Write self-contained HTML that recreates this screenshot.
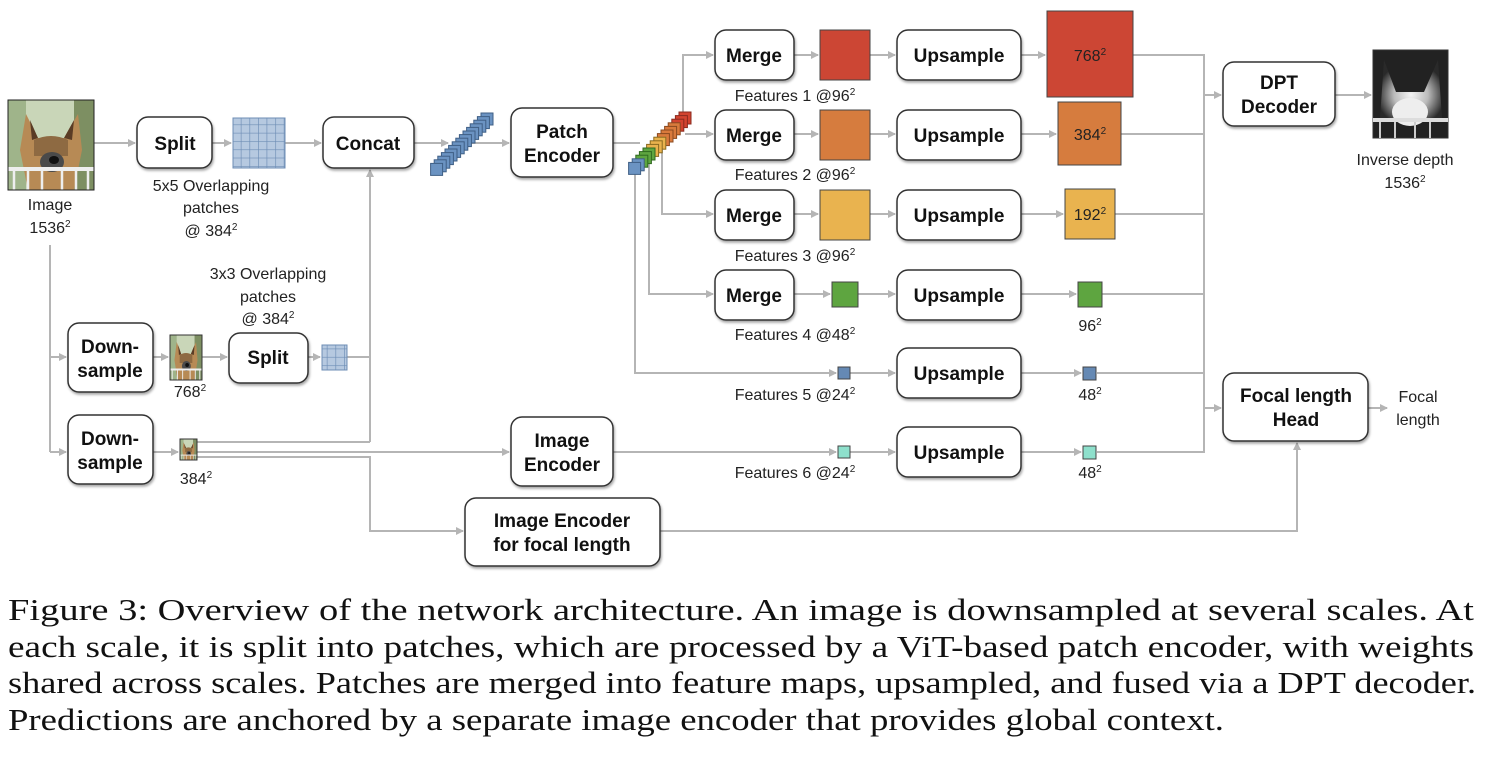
<!DOCTYPE html>
<html><head><meta charset="utf-8"><style>
html,body{margin:0;padding:0;background:#fff;}
svg{display:block}
.b{fill:#fff;stroke:#333;stroke-width:1.5}
.t{font-family:"Liberation Sans",sans-serif;font-weight:bold;font-size:19px;fill:#111;text-anchor:middle}
.l{font-family:"Liberation Sans",sans-serif;font-size:16px;fill:#222;text-anchor:middle}
.c{stroke:#b5b5b5;stroke-width:2;fill:none}
.cap{font-family:"Liberation Serif",serif;font-size:31px;fill:#111}
</style></head><body>
<svg width="1488" height="768" viewBox="0 0 1488 768" xmlns="http://www.w3.org/2000/svg">
<defs>
<marker id="a" markerWidth="8" markerHeight="8" refX="7" refY="4" orient="auto" markerUnits="userSpaceOnUse"><path d="M0,0 L8,4 L0,8 z" fill="#b5b5b5"/></marker>
<filter id="s" x="-10%" y="-10%" width="130%" height="130%"><feDropShadow dx="1" dy="2" stdDeviation="1.2" flood-color="#000" flood-opacity="0.35"/></filter>
<radialGradient id="dep" cx="0.5" cy="0.6" r="0.55"><stop offset="0" stop-color="#f4f4f4"/><stop offset="0.5" stop-color="#bbb"/><stop offset="1" stop-color="#2a2a2a"/></radialGradient>
<pattern id="g" width="8.6" height="8.3" patternUnits="userSpaceOnUse"><rect width="8.6" height="8.3" fill="#b6c9e0"/><path d="M0,0H8.6M0,0V8.3" stroke="#6d8db5" stroke-width="1.3"/></pattern>
<symbol id="dog" viewBox="0 0 86 90" preserveAspectRatio="none">
<rect width="86" height="90" fill="#c9d6b8"/>
<rect x="0" y="0" width="18" height="90" fill="#9fb48a"/>
<rect x="66" y="0" width="20" height="90" fill="#7d8f62"/>
<path d="M18,14 L30,38 L56,38 L70,14 L74,50 L66,90 L20,90 L12,50 z" fill="#b78a55"/>
<path d="M22,20 L30,38 L24,40 z M66,20 L56,38 L64,40 z" fill="#5a3c25"/>
<path d="M26,40 Q43,32 60,40 L60,56 L26,56 z" fill="#8e6a42"/>
<ellipse cx="44" cy="62" rx="12" ry="10" fill="#4a4a4a"/>
<ellipse cx="46" cy="60" rx="5" ry="4" fill="#111"/>
<rect x="0" y="67" width="86" height="4" fill="#eee"/>
<path d="M6,71V90M20,71V90M34,71V90M54,71V90M68,71V90M80,71V90" stroke="#eee" stroke-width="2.5"/>
</symbol>
</defs>

<g class="c">
<path d="M94,143H135" marker-end="url(#a)"/>
<path d="M212,143H231" marker-end="url(#a)"/>
<path d="M285,143H321" marker-end="url(#a)"/>
<path d="M414,143H448" marker-end="url(#a)"/>
<path d="M470,143H509" marker-end="url(#a)"/>
<path d="M613,143H640"/>
<path d="M50,245V452"/>
<path d="M50,357H66" marker-end="url(#a)"/>
<path d="M50,452H66" marker-end="url(#a)"/>
<path d="M153,357H168" marker-end="url(#a)"/>
<path d="M202,357H227" marker-end="url(#a)"/>
<path d="M308,357H320" marker-end="url(#a)"/>
<path d="M347,357H370"/>
<path d="M370,442V170" marker-end="url(#a)"/>
<path d="M197,442H370"/>
<path d="M153,452H178" marker-end="url(#a)"/>
<path d="M197,452H509" marker-end="url(#a)"/>
<path d="M197,457H370V531H463" marker-end="url(#a)"/>
<path d="M660,531H1297V443" marker-end="url(#a)"/>
<path d="M683,120V55H713" marker-end="url(#a)"/>
<path d="M685,134H713" marker-end="url(#a)"/>
<path d="M662,150V214H713" marker-end="url(#a)"/>
<path d="M649,158V294H713" marker-end="url(#a)"/>
<path d="M635,172V373H836" marker-end="url(#a)"/>
<path d="M613,452H836" marker-end="url(#a)"/>
<path d="M794,55H818" marker-end="url(#a)"/><path d="M870,55H895" marker-end="url(#a)"/>
<path d="M794,134H818" marker-end="url(#a)"/><path d="M870,134H895" marker-end="url(#a)"/>
<path d="M794,214H818" marker-end="url(#a)"/><path d="M870,214H895" marker-end="url(#a)"/>
<path d="M794,294H830" marker-end="url(#a)"/><path d="M858,294H895" marker-end="url(#a)"/>
<path d="M850,373H895" marker-end="url(#a)"/>
<path d="M850,452H895" marker-end="url(#a)"/>
<path d="M1021,55H1045" marker-end="url(#a)"/>
<path d="M1021,134H1056" marker-end="url(#a)"/>
<path d="M1021,214H1063" marker-end="url(#a)"/>
<path d="M1021,294H1076" marker-end="url(#a)"/>
<path d="M1021,373H1081" marker-end="url(#a)"/>
<path d="M1021,452H1081" marker-end="url(#a)"/>
<path d="M1133,55H1204V452H1097"/>
<path d="M1121,134H1204M1115,214H1204M1102,294H1204M1097,373H1204"/>
<path d="M1204,95H1221" marker-end="url(#a)"/>
<path d="M1204,408H1221" marker-end="url(#a)"/>
<path d="M1335,95H1371" marker-end="url(#a)"/>
<path d="M1368,408H1387" marker-end="url(#a)"/>
</g>

<use href="#dog" x="8" y="100" width="86" height="90"/>
<rect x="8" y="100" width="86" height="90" fill="none" stroke="#222"/>
<use href="#dog" x="170" y="335" width="32" height="45"/>
<rect x="170" y="335" width="32" height="45" fill="none" stroke="#333"/>
<use href="#dog" x="180" y="439" width="17" height="21"/>
<rect x="180" y="439" width="17" height="21" fill="none" stroke="#333"/>
<rect x="1373" y="50" width="75" height="88" fill="#222" stroke="#333"/>
<path d="M1384,60 L1396,92 L1424,92 L1438,60 L1442,118 L1380,118 z" fill="url(#dep)"/>
<ellipse cx="1410" cy="112" rx="18" ry="14" fill="#eee"/>
<rect x="1373" y="118" width="75" height="4" fill="#ddd"/>
<path d="M1380,122V138M1395,122V138M1415,122V138M1430,122V138" stroke="#ccc" stroke-width="2"/>

<rect x="233" y="118" width="52" height="50" fill="url(#g)" stroke="#6d8db5"/>
<rect x="322" y="345" width="25" height="25" fill="url(#g)" stroke="#6d8db5"/>

<g stroke="#3f5f85" stroke-width="1" fill="#6b93c2">
<rect x="481" y="113" width="12" height="12"/><rect x="477.4" y="116.6" width="12" height="12"/><rect x="473.8" y="120.2" width="12" height="12"/><rect x="470.2" y="123.8" width="12" height="12"/><rect x="466.6" y="127.4" width="12" height="12"/><rect x="463" y="131" width="12" height="12"/><rect x="459.4" y="134.6" width="12" height="12"/><rect x="455.8" y="138.2" width="12" height="12"/><rect x="452.2" y="141.8" width="12" height="12"/><rect x="448.6" y="145.4" width="12" height="12"/><rect x="445" y="149" width="12" height="12"/><rect x="441.4" y="152.6" width="12" height="12"/><rect x="437.8" y="156.2" width="12" height="12"/><rect x="434.2" y="159.8" width="12" height="12"/><rect x="430.6" y="163.4" width="12" height="12"/>
</g>
<g stroke-width="1">
<rect x="679" y="112" width="12" height="12" fill="#d2432f" stroke="#8a2a1e"/><rect x="675.4" y="115.6" width="12" height="12" fill="#d2432f" stroke="#8a2a1e"/><rect x="671.8" y="119.2" width="12" height="12" fill="#d2432f" stroke="#8a2a1e"/>
<rect x="668.2" y="122.8" width="12" height="12" fill="#d97a3c" stroke="#8a4a20"/><rect x="664.6" y="126.4" width="12" height="12" fill="#d97a3c" stroke="#8a4a20"/><rect x="661" y="130" width="12" height="12" fill="#d97a3c" stroke="#8a4a20"/><rect x="657.4" y="133.6" width="12" height="12" fill="#d97a3c" stroke="#8a4a20"/>
<rect x="653.8" y="137.2" width="12" height="12" fill="#e9b24d" stroke="#8a6a20"/><rect x="650.2" y="140.8" width="12" height="12" fill="#e9b24d" stroke="#8a6a20"/><rect x="646.6" y="144.4" width="12" height="12" fill="#e9b24d" stroke="#8a6a20"/>
<rect x="643" y="148" width="12" height="12" fill="#5ea540" stroke="#2f6a20"/><rect x="639.4" y="151.6" width="12" height="12" fill="#5ea540" stroke="#2f6a20"/><rect x="635.8" y="155.2" width="12" height="12" fill="#5ea540" stroke="#2f6a20"/>
<rect x="632.2" y="158.8" width="12" height="12" fill="#6b93c2" stroke="#3f5f85"/><rect x="628.6" y="162.4" width="12" height="12" fill="#6b93c2" stroke="#3f5f85"/>
</g>

<g stroke="#444" stroke-width="1">
<rect x="820" y="30" width="50" height="50" fill="#cc4634"/>
<rect x="820" y="110" width="50" height="50" fill="#d67c3e"/>
<rect x="820" y="190" width="50" height="50" fill="#e9b34f"/>
<rect x="832" y="282" width="26" height="25" fill="#5ea540"/>
<rect x="838" y="367" width="12" height="12" fill="#6589b4"/>
<rect x="838" y="446" width="12" height="12" fill="#8ee0cc"/>
<rect x="1047" y="11" width="86" height="86" fill="#cc4634"/>
<rect x="1058" y="102" width="63" height="63" fill="#d67c3e"/>
<rect x="1065" y="189" width="50" height="50" fill="#e9b34f"/>
<rect x="1078" y="282" width="24" height="25" fill="#5ea540"/>
<rect x="1083" y="367" width="13" height="13" fill="#6589b4"/>
<rect x="1083" y="446" width="13" height="13" fill="#8ee0cc"/>
</g>

<g filter="url(#s)">
<rect class="b" x="137" y="117" width="75" height="51" rx="11"/>
<rect class="b" x="323" y="117" width="91" height="51" rx="11"/>
<rect class="b" x="511" y="108" width="102" height="69" rx="11"/>
<rect class="b" x="68" y="323" width="85" height="69" rx="11"/>
<rect class="b" x="68" y="415" width="85" height="69" rx="11"/>
<rect class="b" x="229" y="333" width="79" height="50" rx="11"/>
<rect class="b" x="511" y="417" width="102" height="69" rx="11"/>
<rect class="b" x="465" y="498" width="195" height="68" rx="11"/>
<rect class="b" x="715" y="30" width="79" height="50" rx="11"/>
<rect class="b" x="715" y="110" width="79" height="50" rx="11"/>
<rect class="b" x="715" y="190" width="79" height="50" rx="11"/>
<rect class="b" x="715" y="270" width="79" height="50" rx="11"/>
<rect class="b" x="897" y="30" width="124" height="50" rx="11"/>
<rect class="b" x="897" y="110" width="124" height="50" rx="11"/>
<rect class="b" x="897" y="190" width="124" height="50" rx="11"/>
<rect class="b" x="897" y="270" width="124" height="50" rx="11"/>
<rect class="b" x="897" y="348" width="124" height="50" rx="11"/>
<rect class="b" x="897" y="427" width="124" height="50" rx="11"/>
<rect class="b" x="1223" y="62" width="112" height="64" rx="11"/>
<rect class="b" x="1223" y="373" width="145" height="68" rx="11"/>
</g>

<g class="t">
<text x="175" y="150">Split</text>
<text x="368" y="150">Concat</text>
<text x="562" y="138">Patch</text><text x="562" y="162">Encoder</text>
<text x="110" y="353">Down-</text><text x="110" y="377">sample</text>
<text x="110" y="445">Down-</text><text x="110" y="469">sample</text>
<text x="268" y="364">Split</text>
<text x="562" y="447">Image</text><text x="562" y="471">Encoder</text>
<text x="562" y="527">Image Encoder</text><text x="562" y="551">for focal length</text>
<text x="754" y="62">Merge</text><text x="754" y="142">Merge</text><text x="754" y="222">Merge</text><text x="754" y="302">Merge</text>
<text x="959" y="62">Upsample</text><text x="959" y="142">Upsample</text><text x="959" y="222">Upsample</text><text x="959" y="302">Upsample</text><text x="959" y="380">Upsample</text><text x="959" y="459">Upsample</text>
<text x="1279" y="89">DPT</text><text x="1279" y="113">Decoder</text>
<text x="1296" y="402">Focal length</text><text x="1296" y="426">Head</text>
</g>

<g class="l">
<text x="50" y="210">Image</text><text x="50" y="233">1536<tspan font-size="10" dy="-6">2</tspan></text>
<text x="211" y="191">5x5 Overlapping</text><text x="211" y="213">patches</text><text x="211" y="236">@ 384<tspan font-size="10" dy="-6">2</tspan></text>
<text x="268" y="279">3x3 Overlapping</text><text x="268" y="302">patches</text><text x="268" y="324">@ 384<tspan font-size="10" dy="-6">2</tspan></text>
<text x="190" y="397">768<tspan font-size="10" dy="-6">2</tspan></text>
<text x="196" y="484">384<tspan font-size="10" dy="-6">2</tspan></text>
<text x="795" y="101">Features 1 @96<tspan font-size="10" dy="-6">2</tspan></text>
<text x="795" y="180">Features 2 @96<tspan font-size="10" dy="-6">2</tspan></text>
<text x="795" y="261">Features 3 @96<tspan font-size="10" dy="-6">2</tspan></text>
<text x="795" y="340">Features 4 @48<tspan font-size="10" dy="-6">2</tspan></text>
<text x="795" y="400">Features 5 @24<tspan font-size="10" dy="-6">2</tspan></text>
<text x="795" y="478">Features 6 @24<tspan font-size="10" dy="-6">2</tspan></text>
<text x="1090" y="61">768<tspan font-size="10" dy="-6">2</tspan></text>
<text x="1090" y="140">384<tspan font-size="10" dy="-6">2</tspan></text>
<text x="1090" y="220">192<tspan font-size="10" dy="-6">2</tspan></text>
<text x="1090" y="331">96<tspan font-size="10" dy="-6">2</tspan></text>
<text x="1090" y="400">48<tspan font-size="10" dy="-6">2</tspan></text>
<text x="1090" y="478">48<tspan font-size="10" dy="-6">2</tspan></text>
<text x="1405" y="165">Inverse depth</text><text x="1405" y="188">1536<tspan font-size="10" dy="-6">2</tspan></text>
<text x="1418" y="402">Focal</text><text x="1418" y="425">length</text>
</g>

<g class="cap">
<text x="8" y="620" textLength="1466" lengthAdjust="spacingAndGlyphs">Figure 3: Overview of the network architecture.  An image is downsampled at several scales.  At</text>
<text x="8" y="657" textLength="1466" lengthAdjust="spacingAndGlyphs">each scale, it is split into patches, which are processed by a ViT-based patch encoder, with weights</text>
<text x="8" y="693" textLength="1468" lengthAdjust="spacingAndGlyphs">shared across scales. Patches are merged into feature maps, upsampled, and fused via a DPT decoder.</text>
<text x="8" y="730" textLength="1216" lengthAdjust="spacingAndGlyphs">Predictions are anchored by a separate image encoder that provides global context.</text>
</g>
</svg>
</body></html>
